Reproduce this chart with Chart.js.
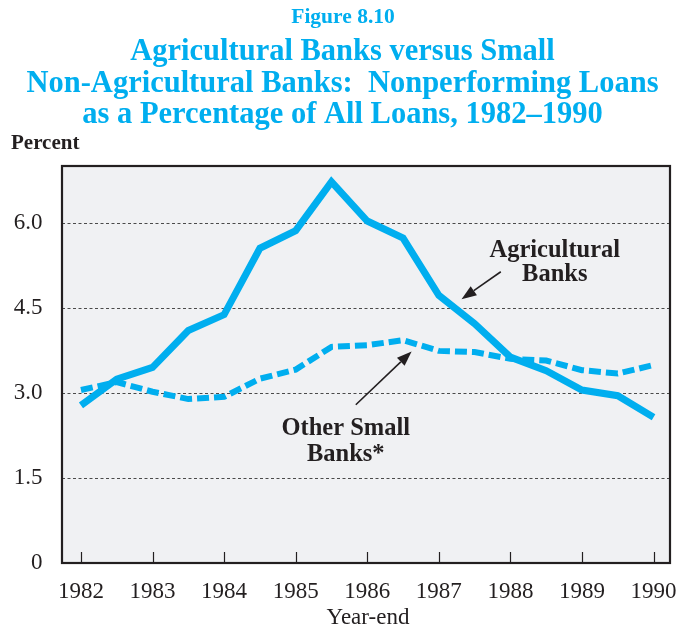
<!DOCTYPE html>
<html><head><meta charset="utf-8">
<script src="https://cdn.jsdelivr.net/npm/chart.js@4/dist/chart.umd.min.js"></script>
<style>html,body{margin:0;padding:0;background:#fff;}#wrap{position:relative;width:679px;height:631px;}</style>
</head><body><div id="wrap"><canvas id="c" width="679" height="631"></canvas></div>
<script>
// ---- data ----
const years = [1982, 1982.5, 1983, 1983.5, 1984, 1984.5, 1985, 1985.5, 1986, 1986.5, 1987, 1987.5, 1988, 1988.5, 1989, 1989.5, 1990];
const agricultural = [2.78, 3.24, 3.45, 4.10, 4.38, 5.55, 5.86, 6.72, 6.03, 5.73, 4.72, 4.22, 3.63, 3.39, 3.05, 2.95, 2.57];
const otherSmall = [3.05, 3.19, 3.02, 2.89, 2.93, 3.25, 3.41, 3.81, 3.84, 3.93, 3.74, 3.72, 3.60, 3.57, 3.40, 3.34, 3.49];
const xTickYears = [1982, 1983, 1984, 1985, 1986, 1987, 1988, 1989, 1990];
const yTickValues = [0, 1.5, 3, 4.5, 6];
const yTickLabels = ['0', '1.5', '3.0', '4.5', '6.0'];
const figureLabel = 'Figure 8.10';
const titleLines = ['Agricultural Banks versus Small', 'Non-Agricultural Banks:  Nonperforming Loans', 'as a Percentage of All Loans, 1982\u20131990'];
const yAxisLabel = 'Percent';
const xAxisLabel = 'Year-end';
const agLabel = ['Agricultural', 'Banks'];
const otherLabel = ['Other Small', 'Banks*'];

// ---- styling / placement (in data units where tied to the plot) ----
const BLUE = '#00aeef';
const INK = '#231f20';
const notes = [
  { lines: agLabel, x: 1988.62, ys: [5.40, 4.97], from: [1987.866, 5.135], to: [1987.317, 4.65] },
  { lines: otherLabel, x: 1985.70, ys: [2.25, 1.79], from: [1985.84, 2.79], to: [1986.62, 3.73] }
];

function arrow(ctx, x1, y1, x2, y2) {
  const ang = Math.atan2(y2 - y1, x2 - x1);
  const L = 15, W = 5.5;
  const bx = x2 - L * Math.cos(ang), by = y2 - L * Math.sin(ang);
  ctx.beginPath();
  ctx.moveTo(x1, y1); ctx.lineTo(bx, by);
  ctx.strokeStyle = INK; ctx.lineWidth = 1.6; ctx.stroke();
  ctx.beginPath();
  ctx.moveTo(x2, y2);
  ctx.lineTo(bx + W * Math.sin(ang), by - W * Math.cos(ang));
  ctx.lineTo(bx - W * Math.sin(ang), by + W * Math.cos(ang));
  ctx.closePath(); ctx.fillStyle = INK; ctx.fill();
}

const decor = {
  id: 'decor',
  beforeDraw(chart) {
    const { ctx, chartArea: a } = chart;
    ctx.save();
    ctx.fillStyle = '#f0f1f3';
    ctx.fillRect(a.left, a.top, a.right - a.left, a.bottom - a.top);
    const ys = chart.scales.y;
    ctx.strokeStyle = '#4a4a4a'; ctx.lineWidth = 1; ctx.setLineDash([3, 2.5]);
    yTickValues.forEach(v => {
      if (v === 0) return;
      const py = Math.round(ys.getPixelForValue(v)) + 0.5;
      ctx.beginPath(); ctx.moveTo(a.left, py); ctx.lineTo(a.right, py); ctx.stroke();
    });
    ctx.restore();
  },
  afterDraw(chart) {
    const { ctx, chartArea: a } = chart;
    const xs = chart.scales.x, ys = chart.scales.y;
    ctx.save();
    ctx.strokeStyle = INK; ctx.lineWidth = 1.2;
    xTickYears.forEach(v => {
      const px = Math.round(xs.getPixelForValue(v)) + 0.5;
      ctx.beginPath(); ctx.moveTo(px, a.bottom); ctx.lineTo(px, a.bottom - 11); ctx.stroke();
    });
    ctx.lineWidth = 2.2; ctx.strokeStyle = INK;
    ctx.strokeRect(a.left, a.top, a.right - a.left, a.bottom - a.top);
    ctx.fillStyle = INK; ctx.textAlign = 'center'; ctx.textBaseline = 'alphabetic';
    ctx.font = 'bold 24.5px "Liberation Serif", "Times New Roman", serif';
    notes.forEach(n => {
      const px = xs.getPixelForValue(n.x);
      n.lines.forEach((t, i) => ctx.fillText(t, px, ys.getPixelForValue(n.ys[i])));
      arrow(ctx, xs.getPixelForValue(n.from[0]), ys.getPixelForValue(n.from[1]),
                 xs.getPixelForValue(n.to[0]), ys.getPixelForValue(n.to[1]));
    });
    const cx = chart.width / 2;
    ctx.fillStyle = BLUE; ctx.textAlign = 'center';
    ctx.font = 'bold 21.5px "Liberation Serif", serif';
    ctx.fillText(figureLabel, 343, 22.7);
    ctx.font = 'bold 30.5px "Liberation Serif", serif';
    const bl = [60, 91.7, 123.3];
    titleLines.forEach((t, i) => ctx.fillText(t, cx + 3, bl[i]));
    ctx.fillStyle = INK; ctx.textAlign = 'left';
    ctx.font = 'bold 21px "Liberation Serif", serif';
    ctx.fillText(yAxisLabel, 11, 149.3);
    ctx.textAlign = 'center';
    ctx.font = '23px "Liberation Serif", serif';
    ctx.fillText(xAxisLabel, (a.left + a.right) / 2 + 2, 624);
    ctx.restore();
  }
};

new Chart(document.getElementById('c'), {
  type: 'line',
  data: {
    datasets: [
      { label: 'Agricultural Banks', data: years.map((y, i) => ({ x: y, y: agricultural[i] })),
        borderColor: BLUE, borderWidth: 7, pointRadius: 0, tension: 0, fill: false,
        borderJoinStyle: 'miter', borderCapStyle: 'butt' },
      { label: 'Other Small Banks*', data: years.map((y, i) => ({ x: y, y: otherSmall[i] })),
        borderColor: BLUE, borderWidth: 6, borderDash: [12, 5], pointRadius: 0, tension: 0, fill: false,
        borderJoinStyle: 'miter', borderCapStyle: 'butt' }
    ]
  },
  options: {
    responsive: false, devicePixelRatio: 1, animation: false,
    layout: { padding: { top: 166, right: 9, left: 0, bottom: 0 } },
    plugins: { legend: { display: false }, tooltip: { enabled: false }, title: { display: false } },
    scales: {
      x: {
        type: 'linear', min: 1981.735, max: 1990.23,
        afterBuildTicks: s => { s.ticks = xTickYears.map(v => ({ value: v })); },
        afterFit: s => { s.height = 68; s.paddingLeft = 0; s.paddingRight = 0; },
        grid: { display: false, drawTicks: false },
        border: { display: false },
        ticks: { autoSkip: false, maxRotation: 0, padding: 15.5, color: INK,
          font: { family: '"Liberation Serif", serif', size: 23 },
          callback: v => String(v) }
      },
      y: {
        type: 'linear', min: 0, max: 7,
        afterBuildTicks: s => { s.ticks = yTickValues.map(v => ({ value: v })); },
        afterFit: s => { s.width = 62; s.paddingTop = 0; s.paddingBottom = 0; },
        grid: { display: false, drawTicks: false },
        border: { display: false },
        ticks: { padding: 19.5, color: INK,
          font: { family: '"Liberation Serif", serif', size: 23 },
          callback: v => yTickLabels[yTickValues.indexOf(v)] }
      }
    }
  },
  plugins: [decor]
});
</script></body></html>
